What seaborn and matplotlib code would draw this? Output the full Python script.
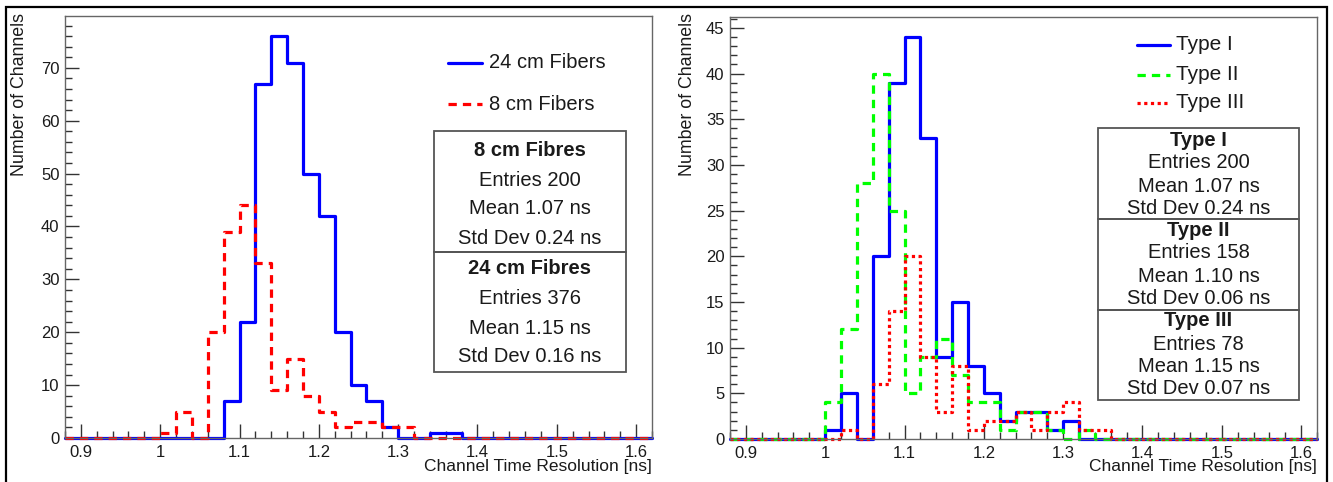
import numpy as np
import pandas as pd
import matplotlib
matplotlib.use("Agg")
import matplotlib.pyplot as plt
from matplotlib.lines import Line2D
from matplotlib.patches import Rectangle
from matplotlib.ticker import MultipleLocator, FuncFormatter
import seaborn as sns

# ---- binning (ns) ----
x_min, x_max, bin_width = 0.88, 1.62, 0.02

# ---- left panel: fibre length comparison (lower bin edges + counts) ----
fib24_lo = [1.08, 1.10, 1.12, 1.14, 1.16, 1.18, 1.20, 1.22, 1.24, 1.26, 1.28, 1.30, 1.32, 1.34, 1.36]
fib24_n = [7, 22, 67, 76, 71, 50, 42, 20, 10, 7, 2, 0, 0, 1, 1]
fib8_lo = [1.00, 1.02, 1.04, 1.06, 1.08, 1.10, 1.12, 1.14, 1.16, 1.18, 1.20, 1.22, 1.24, 1.26, 1.28, 1.30]
fib8_n = [1, 5, 0, 20, 39, 44, 33, 9, 15, 8, 5, 2, 3, 3, 2, 2]

# ---- right panel: channel types ----
type1_lo = [1.00, 1.02, 1.04, 1.06, 1.08, 1.10, 1.12, 1.14, 1.16, 1.18, 1.20, 1.22, 1.24, 1.26, 1.28, 1.30]
type1_n = [1, 5, 0, 20, 39, 44, 33, 9, 15, 8, 5, 2, 3, 3, 1, 2]
type2_lo = [1.00, 1.02, 1.04, 1.06, 1.08, 1.10, 1.12, 1.14, 1.16, 1.18, 1.20, 1.22, 1.24, 1.26, 1.28, 1.30, 1.32]
type2_n = [4, 12, 28, 40, 25, 5, 9, 11, 7, 4, 4, 1, 3, 3, 1, 0, 1]
type3_lo = [1.00, 1.02, 1.04, 1.06, 1.08, 1.10, 1.12, 1.14, 1.16, 1.18, 1.20, 1.22, 1.24, 1.26, 1.28, 1.30, 1.32, 1.34]
type3_n = [0, 1, 0, 6, 14, 20, 9, 3, 8, 1, 2, 2, 3, 1, 3, 4, 1, 1]

# ---- labels ----
x_label = "Channel Time Resolution [ns]"
y_label = "Number of Channels"
left_legend = ["24 cm Fibers", "8 cm Fibers"]
right_legend = ["Type I", "Type II", "Type III"]
left_stats = [("8 cm Fibres", ["Entries 200", "Mean 1.07 ns", "Std Dev 0.24 ns"]),
              ("24 cm Fibres", ["Entries 376", "Mean 1.15 ns", "Std Dev 0.16 ns"])]
right_stats = [("Type I", ["Entries 200", "Mean 1.07 ns", "Std Dev 0.24 ns"]),
               ("Type II", ["Entries 158", "Mean 1.10 ns", "Std Dev 0.06 ns"]),
               ("Type III", ["Entries 78", "Mean 1.15 ns", "Std Dev 0.07 ns"])]

sns.set_theme(style="white")
plt.rcParams["font.family"] = ["Liberation Sans", "DejaVu Sans"]

W, H = 1333, 482
fig = plt.figure(figsize=(W / 100, H / 100), dpi=100)


def fx(px):
    return px / W


def fy(py):
    return 1 - py / H


edges = [round(x_min + i * bin_width, 4) for i in range(int(round((x_max - x_min) / bin_width)) + 1)]

BLUE = "#0000ff"
RED = "#ff0000"
GREEN = "#00ff00"
TXT = "#1a1a1a"
styles = {
    "solid": dict(color=BLUE, linestyle="-", linewidth=2.3),
    "red_dash": dict(color=RED, linestyle=(0, (2.6, 1.9)), linewidth=2.3),
    "green_dash": dict(color=GREEN, linestyle=(0, (2.6, 1.9)), linewidth=2.3),
    "red_dot": dict(color=RED, linestyle=(0, (1.0, 1.1)), linewidth=2.3),
}


def draw_hist(ax, lo, n, style):
    df = pd.DataFrame({"t": np.asarray(lo, dtype=float) + bin_width / 2,
                       "n": np.asarray(n, dtype=float)})
    sns.histplot(data=df, x="t", weights="n", bins=edges, element="step", fill=False,
                 ax=ax, clip_on=False, **styles[style])


def style_axes(ax, ymax, ymajor, yminor):
    ax.set_xlim(x_min, x_max)
    ax.set_ylim(0, ymax)
    ax.xaxis.set_major_locator(MultipleLocator(0.1))
    ax.xaxis.set_minor_locator(MultipleLocator(0.02))
    ax.yaxis.set_major_locator(MultipleLocator(ymajor))
    ax.yaxis.set_minor_locator(MultipleLocator(yminor))
    ax.xaxis.set_major_formatter(FuncFormatter(lambda v, p: f"{v:g}"))
    ax.yaxis.set_major_formatter(FuncFormatter(lambda v, p: f"{v:g}"))
    ax.tick_params(which="both", direction="in", top=False, right=False,
                   bottom=True, left=True, color="#333333", width=1.0,
                   labelsize=12, labelcolor=TXT)
    ax.tick_params(which="major", length=10)
    ax.tick_params(which="minor", length=5)
    ax.tick_params(axis="x", which="major", pad=5)
    ax.tick_params(axis="y", which="major", pad=4)
    for s in ax.spines.values():
        s.set_color("#666666")
        s.set_linewidth(1.0)
    ax.set_xlabel("")
    ax.set_ylabel("")
    ax.set_facecolor("white")


def legend_rows(x_line0, x_line1, x_text, rows, size):
    for (label, style, y) in rows:
        st = styles[style]
        fig.add_artist(Line2D([fx(x_line0), fx(x_line1)], [fy(y), fy(y)],
                              transform=fig.transFigure, color=st["color"],
                              linestyle=st["linestyle"], linewidth=st["linewidth"]))
        fig.text(fx(x_text), fy(y), label, ha="left", va="center",
                 fontsize=size, color=TXT)


def stats_box(x0, x1, tops, bottom, line_ys, blocks, size):
    xc = (x0 + x1) / 2
    for i, top in enumerate(tops):
        bot = tops[i + 1] if i + 1 < len(tops) else bottom
        fig.add_artist(Rectangle((fx(x0), fy(bot)), fx(x1) - fx(x0), fy(top) - fy(bot),
                                 transform=fig.transFigure, fill=False,
                                 edgecolor="#555555", linewidth=1.3))
    k = 0
    for title, lines in blocks:
        fig.text(fx(xc), fy(line_ys[k]), title, ha="center", va="center",
                 fontsize=size, fontweight="bold", color=TXT)
        k += 1
        for ln in lines:
            fig.text(fx(xc), fy(line_ys[k]), ln, ha="center", va="center",
                     fontsize=size, color=TXT)
            k += 1


# ---- left panel ----
axL = fig.add_axes([fx(65), fy(438), fx(652) - fx(65), fy(16) - fy(438)])
draw_hist(axL, fib24_lo, fib24_n, "solid")
draw_hist(axL, fib8_lo, fib8_n, "red_dash")
style_axes(axL, 79.8, 10, 2)

# ---- right panel ----
axR = fig.add_axes([fx(730), fy(439), fx(1317) - fx(730), fy(17) - fy(439)])
draw_hist(axR, type1_lo, type1_n, "solid")
draw_hist(axR, type2_lo, type2_n, "green_dash")
draw_hist(axR, type3_lo, type3_n, "red_dot")
style_axes(axR, 46.2, 5, 1)

# axis titles
for xr, xl in ((652, 20), (1317, 687)):
    fig.text(fx(xr), fy(467), x_label, ha="right", va="center", fontsize=12.5, color=TXT)
    fig.text(fx(xl), fy(13), y_label, ha="center", va="top", rotation=90,
             fontsize=12.8, color=TXT)

# legends
legend_rows(448, 482, 489, [(left_legend[0], "solid", 63), (left_legend[1], "red_dash", 104)], 14.5)
legend_rows(1137, 1170, 1176, [(right_legend[0], "solid", 45), (right_legend[1], "green_dash", 75),
                               (right_legend[2], "red_dot", 103)], 15)

# statistics boxes
stats_box(434, 626, [131, 252], 372,
          [150, 180, 209, 239, 268, 298, 328, 357], left_stats, 14.5)
stats_box(1098, 1299, [128, 219, 310], 400,
          [140, 163, 186, 208, 230, 253, 276, 298, 321, 344, 366, 389], right_stats, 14.5)

# outer frame
fig.add_artist(Rectangle((fx(6), fy(490)), fx(1327) - fx(6), fy(7) - fy(490),
                         transform=fig.transFigure, fill=False, edgecolor="black",
                         linewidth=1.6, clip_on=False))

fig.savefig("out.png", dpi=100, facecolor="white")
